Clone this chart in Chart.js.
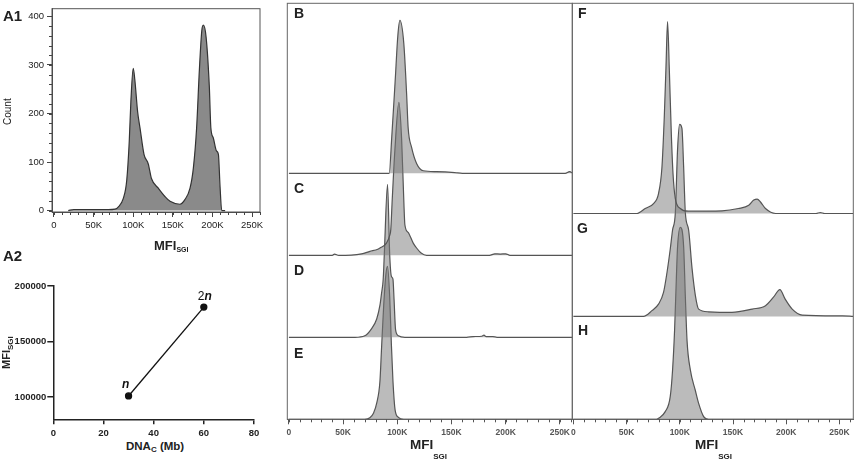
<!DOCTYPE html>
<html>
<head>
<meta charset="utf-8">
<script src="https://cdn.jsdelivr.net/npm/chart.js@4.4.0/dist/chart.umd.min.js"></script>
<style>
  body { margin: 0; background: #fff; width: 856px; height: 463px; overflow: hidden; position: relative;
         font-family: "Liberation Sans", Arial, sans-serif; color: #222; }
  .c { position: absolute; }
  .c canvas { display: block; }
  .t { position: absolute; white-space: nowrap; line-height: 1; font-weight: bold; }
  .rot { transform: rotate(-90deg); transform-origin: left top; }
</style>
</head>
<body>

<div class="c" style="left:0;top:0"><canvas id="a1" width="270" height="240"></canvas></div>
<div class="c" style="left:0;top:262px"><canvas id="a2" width="270" height="178"></canvas></div>
<div class="c" style="left:280px;top:0"><canvas id="be" width="300" height="440"></canvas></div>
<div class="c" style="left:565px;top:0"><canvas id="fh" width="291" height="440"></canvas></div>

<div class="t" style="left:3px;top:8px;font-size:15px">A1</div>
<div class="t" style="left:3px;top:248px;font-size:15px">A2</div>
<div class="t" style="left:294px;top:6px;font-size:14px">B</div>
<div class="t" style="left:294px;top:181px;font-size:14px">C</div>
<div class="t" style="left:294px;top:263px;font-size:14px">D</div>
<div class="t" style="left:294px;top:346px;font-size:14px">E</div>
<div class="t" style="left:578px;top:6px;font-size:14px">F</div>
<div class="t" style="left:577px;top:221px;font-size:14px">G</div>
<div class="t" style="left:578px;top:323px;font-size:14px">H</div>

<div class="t rot" style="left:3px;top:125px;font-size:10px;font-weight:normal">Count</div>
<div class="t" style="left:154px;top:239px;font-size:13px">MFI<span style="font-size:7px;vertical-align:-2px">SGI</span></div>

<div class="t rot" style="left:1px;top:369px;font-size:11px">MFI<span style="font-size:8px;vertical-align:-3px">SGI</span></div>
<div class="t" style="left:126px;top:441px;font-size:11.5px">DNA<span style="font-size:8px;vertical-align:-2px">C</span> (Mb)</div>

<div class="t" style="left:410px;top:438px;font-size:13.5px">MFI<span style="font-size:8px;vertical-align:-10px">SGI</span></div>
<div class="t" style="left:695px;top:438px;font-size:13.5px">MFI<span style="font-size:8px;vertical-align:-10px">SGI</span></div>

<script>
// axis ticks shared by the flow histograms
const histTicks = [0, 50000, 100000, 150000, 200000, 250000];
const histTickLabels = ['0', '50K', '100K', '150K', '200K', '250K'];

// A1: raw count histogram
const a1Ticks = [0, 100, 200, 300, 400];
const a1Mfi = [18000, 25000, 68600, 77000, 81000, 87500, 91800, 95000, 97000, 100000, 102000, 105600,
  108600, 113600, 119000, 123000, 131700, 140000, 146500, 159000, 165000, 171700, 176000, 180000,
  183500, 186500, 188500, 192000, 196000, 198000, 201000, 205000, 207500, 209600, 211700, 216000];
const a1Count = [0, 2, 2, 3, 7, 25, 62, 143, 223, 293, 270, 203,
  170, 116, 96, 66, 46, 29, 19, 13, 22, 46, 89, 170,
  290, 370, 382, 357, 257, 170, 150, 123, 116, 49, 0, 0];

// A2: MFI vs genome size
const a2Dna = [30, 60];
const a2Mfi = [101000, 181000];
const a2Labels = ['n', '2n'];
const a2XTicks = [0, 20, 40, 60, 80];
const a2YTicks = [100000, 150000, 200000];

// B-E and F-H: offset overlays, % of mode
const bMfi = [0, 92500, 95000, 98000, 100500, 102400, 106000, 108600, 110000, 113200, 117800, 124000, 136000, 153000, 160000, 255000, 259000, 262000];
const bPct = [0, 0, 25, 60, 90, 100, 85, 52, 30, 17, 6.5, 1.7, 1.1, 0.5, 0, 0, 1.2, 0];
const cMfi = [0, 40000, 42000, 46000, 67000, 74700, 82000, 84000, 90000, 93000, 94000, 95300, 97800, 101500, 104000, 106000, 107000, 110000, 114700, 117800, 122000, 127000, 185000, 190000, 195000, 200000, 204000, 262000];
const cPct = [0, 0, 0.8, 0, 1, 2.6, 4, 4.8, 8, 13, 17, 36, 69, 100, 76, 36, 20, 15, 8, 4.8, 1.5, 0, 0, 1, 0.8, 1, 0, 0];
const dMfi = [0, 61000, 70000, 76000, 81000, 84000, 85500, 87000, 88000, 91000, 93000, 94500, 96000, 97000, 98400, 101000, 107000, 164000, 170000, 178000, 180000, 182000, 188000, 192000, 262000];
const dPct = [0, 0, 1, 5.4, 12, 21, 29, 38, 54, 100, 54, 40, 38, 25, 5, 1, 0, 0, 0.5, 0.7, 1.5, 0.5, 0.5, 0, 0];
const eMfi = [0, 70000, 74700, 78000, 81000, 84000, 85500, 87500, 89500, 91000, 93000, 94500, 96000, 98000, 101000, 106000, 262000];
const ePct = [0, 0, 1, 4, 10.5, 25, 47, 75, 95, 100, 80, 50, 25, 6, 1.3, 0, 0];
const fMfi = [0, 59700, 67500, 75300, 80000, 83200, 85400, 87000, 88500, 90100, 92000, 93600, 95800, 100500, 108000, 139700, 155000, 164800, 169500, 172700, 175800, 180500, 190000, 228000, 232000, 236000, 263000];
const fPct = [0, 0, 2.6, 5.2, 10.4, 24, 50, 76, 100, 76, 42, 21, 7.8, 2.6, 1.2, 1.4, 2.6, 4.3, 7, 7.5, 6, 2.6, 0, 0, 0.5, 0, 0];
const gMfi = [0, 65900, 73800, 80000, 84700, 88000, 91000, 93200, 95800, 97900, 99800, 102000, 103600, 105200, 108300, 111500, 114600, 117700, 127000, 149000, 168000, 180500, 188000, 194000, 199000, 205600, 215000, 252700, 263000];
const gPct = [0, 0, 3, 6.4, 12.5, 23, 35, 45, 54, 87, 100, 98, 78, 54, 45, 25, 11, 3.8, 2.4, 2.1, 3.8, 5.6, 10, 14, 9, 3.8, 0.7, 0.3, 0];
const hMfi = [0, 78000, 80000, 86300, 91000, 93200, 95100, 96700, 97900, 100500, 103600, 105200, 106800, 109900, 114600, 117700, 122400, 127000, 263000];
const hPct = [0, 0, 0.5, 4, 11.8, 25.7, 46.5, 72.6, 90, 100, 90, 64, 41, 25.7, 15, 8.3, 1.4, 0, 0];

const STRIP = 53.6;   // vertical offset between stacked histograms

Chart.defaults.font.family = '"Liberation Sans", Arial, sans-serif';

const pts = (xs, ys, off) => xs.map((x, i) => ({ x: x, y: ys[i] + off }));
const fixTicks = list => s => { s.ticks = list.map(v => ({ value: v })); };

// box round the plot area
const panelBox = {
  id: 'panelBox',
  afterDraw(chart, args, opts) {
    if (!opts.color) return;
    const a = chart.chartArea, ctx = chart.ctx;
    ctx.save();
    ctx.strokeStyle = opts.color;
    ctx.lineWidth = 1;
    ctx.strokeRect(a.left, a.top, a.right - a.left, a.bottom - a.top);
    ctx.restore();
  }
};

// small ticks between the labelled ones
const minorTicks = {
  id: 'minorTicks',
  afterDraw(chart, args, opts) {
    const ctx = chart.ctx;
    ctx.save();
    ctx.strokeStyle = opts.color || '#444';
    ctx.lineWidth = 1;
    ['x', 'y'].forEach(id => {
      const o = opts[id];
      if (!o) return;
      const s = chart.scales[id];
      ctx.beginPath();
      for (let v = 0; v <= s.max; v += o.step) {
        if (v < s.min) continue;
        const p = Math.round(s.getPixelForValue(v)) + 0.5;
        if (id === 'x') { ctx.moveTo(p, s.top); ctx.lineTo(p, s.top + o.len); }
        else { ctx.moveTo(s.right, p); ctx.lineTo(s.right - o.len, p); }
      }
      ctx.stroke();
    });
    ctx.restore();
  }
};

// "n" / "2n" next to the A2 points
const pointNotes = {
  id: 'pointNotes',
  afterDatasetsDraw(chart, args, opts) {
    const ctx = chart.ctx;
    const meta = chart.getDatasetMeta(0);
    ctx.save();
    ctx.fillStyle = '#111';
    ctx.textBaseline = 'alphabetic';
    meta.data.forEach((el, i) => {
      const lab = a2Labels[i];
      const num = lab.slice(0, -1), letter = lab.slice(-1);
      const fNum = '12px "Liberation Sans", Arial, sans-serif';
      const fLet = 'italic bold 12px "Liberation Sans", Arial, sans-serif';
      ctx.font = fNum; const w1 = ctx.measureText(num).width;
      ctx.font = fLet; const w2 = ctx.measureText(letter).width;
      const off = opts.offsets[i];
      const x = el.x + off[0] - (w1 + w2) / 2;
      const y = el.y + off[1];
      ctx.textAlign = 'left';
      ctx.font = fNum; ctx.fillText(num, x, y);
      ctx.font = fLet; ctx.fillText(letter, x + w1, y);
    });
    ctx.restore();
  }
};

function histDataset(xs, ys, off, fillColor, lineColor) {
  return {
    data: pts(xs, ys, off),
    borderColor: lineColor,
    borderWidth: 1.2,
    backgroundColor: fillColor,
    fill: { value: off },
    pointRadius: 0,
    cubicInterpolationMode: 'monotone'
  };
}

function overlayX(min, max) {
  return {
    type: 'linear', min: min, max: max,
    afterBuildTicks: fixTicks(histTicks),
    afterFit: s => { s.height = 20.7; },
    ticks: { callback: (v, i) => histTickLabels[i], autoSkip: false, maxRotation: 0,
             font: { size: 8.5, weight: 'bold' }, color: '#555', padding: 3 },
    grid: { drawOnChartArea: false, tickLength: 5, color: '#555' },
    border: { color: '#555' }
  };
}

const baseOpts = {
  responsive: false,
  animation: false,
  events: []
};

// A1
new Chart(document.getElementById('a1'), {
  type: 'line',
  data: { datasets: [histDataset(a1Mfi, a1Count, 0, '#8a8a8a', '#333')] },
  options: Object.assign({}, baseOpts, {
    layout: { padding: { top: 4, right: 10, left: 0, bottom: 0 }, autoPadding: false },
    plugins: {
      legend: { display: false }, tooltip: { enabled: false },
      panelBox: { color: '#555' },
      minorTicks: { x: { step: 10000, len: 3 }, y: { step: 20, len: 3 }, color: '#444' }
    },
    scales: {
      x: {
        type: 'linear', min: -2500, max: 260000,
        afterBuildTicks: fixTicks(histTicks),
        afterFit: s => { s.height = 28; },
        ticks: { callback: (v, i) => histTickLabels[i], autoSkip: false, maxRotation: 0,
                 font: { size: 9.5 }, color: '#222', padding: 3 },
        grid: { drawOnChartArea: false, tickLength: 5, color: '#444' },
        border: { color: '#444' }
      },
      y: {
        min: -3, max: 416,
        afterBuildTicks: fixTicks(a1Ticks),
        afterFit: s => { s.width = 52; },
        ticks: { font: { size: 9.5 }, color: '#222', padding: 3 },
        grid: { drawOnChartArea: false, tickLength: 5, color: '#444' },
        border: { color: '#444' }
      }
    }
  }),
  plugins: [panelBox, minorTicks]
});

// A2
new Chart(document.getElementById('a2'), {
  type: 'line',
  data: {
    datasets: [{
      data: pts(a2Dna, a2Mfi, 0),
      borderColor: '#111', borderWidth: 1.3,
      pointRadius: 3, pointBackgroundColor: '#111', pointBorderColor: '#111',
      fill: false, tension: 0
    }]
  },
  options: Object.assign({}, baseOpts, {
    layout: { padding: { top: 24, right: 16, left: 0, bottom: 0 }, autoPadding: false },
    plugins: {
      legend: { display: false }, tooltip: { enabled: false },
      pointNotes: { offsets: [[-3, -8], [1, -7]] }
    },
    scales: {
      x: {
        type: 'linear', min: 0, max: 80,
        afterBuildTicks: fixTicks(a2XTicks),
        afterFit: s => { s.height = 20.7; },
        ticks: { callback: v => String(v), font: { size: 9.5, weight: 'bold' }, color: '#222', padding: 3 },
        grid: { drawOnChartArea: false, tickLength: 5, color: '#222', lineWidth: 1.5 },
        border: { color: '#222', width: 1.5 }
      },
      y: {
        min: 80000, max: 200000,
        afterBuildTicks: fixTicks(a2YTicks),
        afterFit: s => { s.width = 53.3; },
        ticks: { callback: v => String(v), font: { size: 9.5, weight: 'bold' }, color: '#222', padding: 1 },
        grid: { drawOnChartArea: false, tickLength: 6, color: '#222', lineWidth: 1.5 },
        border: { color: '#222', width: 1.5 }
      }
    }
  }),
  plugins: [pointNotes]
});

const overlayFill = 'rgba(120,120,120,0.5)';
const overlayLine = '#555';

// B-E
new Chart(document.getElementById('be'), {
  type: 'line',
  data: {
    datasets: [
      histDataset(bMfi, bPct, 3 * STRIP, overlayFill, overlayLine),
      histDataset(cMfi, cPct, 2 * STRIP, overlayFill, overlayLine),
      histDataset(dMfi, dPct, 1 * STRIP, overlayFill, overlayLine),
      histDataset(eMfi, ePct, 0, overlayFill, overlayLine)
    ]
  },
  options: Object.assign({}, baseOpts, {
    layout: { padding: { top: 3.3, right: 7.7, left: 7.3, bottom: 0 }, autoPadding: false },
    plugins: {
      legend: { display: false }, tooltip: { enabled: false },
      panelBox: { color: '#666' },
      minorTicks: { x: { step: 10000, len: 3 }, color: '#555' }
    },
    scales: { x: overlayX(-1500, 261500), y: { display: false, min: 0, max: 272 } }
  }),
  plugins: [panelBox, minorTicks]
});

// F-H
new Chart(document.getElementById('fh'), {
  type: 'line',
  data: {
    datasets: [
      histDataset(fMfi, fPct, 2 * STRIP, overlayFill, overlayLine),
      histDataset(gMfi, gPct, 1 * STRIP, overlayFill, overlayLine),
      histDataset(hMfi, hPct, 0, overlayFill, overlayLine)
    ]
  },
  options: Object.assign({}, baseOpts, {
    layout: { padding: { top: 3.3, right: 2.7, left: 7.3, bottom: 0 }, autoPadding: false },
    plugins: {
      legend: { display: false }, tooltip: { enabled: false },
      panelBox: { color: '#666' },
      minorTicks: { x: { step: 10000, len: 3 }, color: '#555' }
    },
    scales: { x: overlayX(-1000, 263000), y: { display: false, min: 0, max: 216.7 } }
  }),
  plugins: [panelBox, minorTicks]
});
</script>
</body>
</html>
